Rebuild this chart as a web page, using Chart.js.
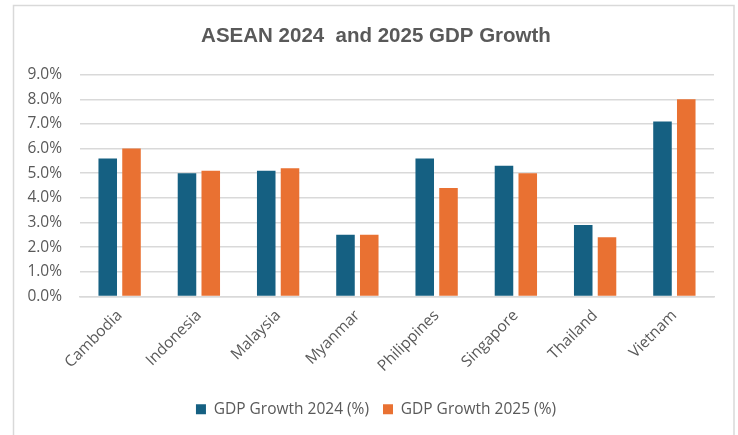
<!DOCTYPE html>
<html>
<head>
<meta charset="utf-8">
<script src="https://cdn.jsdelivr.net/npm/chart.js@4"></script>
<style>
  html, body { margin: 0; padding: 0; background: #fff; }
  #wrap { width: 738px; height: 435px; position: relative; }
</style>
</head>
<body>
<div id="wrap"><canvas id="gdpChart"></canvas></div>
<script>
const countries = ['Cambodia', 'Indonesia', 'Malaysia', 'Myanmar', 'Philippines', 'Singapore', 'Thailand', 'Vietnam']
const growth2024 = [5.6, 5.0, 5.1, 2.5, 5.6, 5.3, 2.9, 7.1]
const growth2025 = [6.0, 5.1, 5.2, 2.5, 4.4, 5.0, 2.4, 8.0]
const yTicks = [0, 1, 2, 3, 4, 5, 6, 7, 8, 9]

const textGray = '#595959'
const fontFamily = '"Open Sans", "Liberation Sans", sans-serif'

// light grey frame round the whole chart
const frame = {
  id: 'frame',
  beforeDraw(chart) {
    const c = chart.ctx
    c.save()
    c.fillStyle = '#fff'
    c.fillRect(0, 0, chart.width, chart.height)
    c.strokeStyle = '#d9d9d9'
    c.lineWidth = 1.5
    c.strokeRect(13.5, 5.5, 720.5, 440)
    c.restore()
  }
}

new Chart(document.getElementById('gdpChart'), {
  type: 'bar',
  plugins: [frame],
  data: {
    labels: countries,
    datasets: [
      { label: 'GDP Growth 2024 (%)', data: growth2024, backgroundColor: '#156082' },
      { label: 'GDP Growth 2025 (%)', data: growth2025, backgroundColor: '#E97132' }
    ]
  },
  options: {
    responsive: true,
    maintainAspectRatio: false,
    animation: false,
    devicePixelRatio: 1,
    // wide left padding keeps title and legend centred a bit right, y labels spill into it
    layout: { padding: { left: 38, right: 24, top: 0, bottom: 8 } },
    datasets: {
      bar: { categoryPercentage: 0.6, barPercentage: 0.78 }
    },
    scales: {
      x: {
        grid: { display: false },
        border: { color: '#d9d9d9', width: 1.5 },
        ticks: {
          color: textGray,
          font: { family: fontFamily, size: 15.5 },
          minRotation: 45,
          maxRotation: 45,
          padding: 2
        },
        afterFit(scale) { scale.height = 91 }
      },
      y: {
        min: 0,
        max: 9,
        afterBuildTicks(scale) { scale.ticks = yTicks.map(v => ({ value: v })) },
        grid: { color: '#d9d9d9', lineWidth: 1.5, drawTicks: false },
        border: { display: false },
        ticks: {
          color: textGray,
          font: { family: fontFamily, size: 15.5 },
          padding: 18,
          callback: (v) => v.toFixed(1) + '%'
        },
        afterFit(scale) {
          scale.width = 42
          // no clipping, so the tick labels can run into the padding
          scale._computeLabelArea = () => undefined
        }
      }
    },
    plugins: {
      title: {
        display: true,
        text: 'ASEAN 2024  and 2025 GDP Growth',
        color: textGray,
        font: { family: '"Liberation Sans", Arial, sans-serif', size: 20.5, weight: 'bold' },
        padding: { top: 24, bottom: 26 }
      },
      legend: {
        position: 'bottom',
        labels: {
          color: textGray,
          font: { family: fontFamily, size: 15.5 },
          boxWidth: 10,
          boxHeight: 10,
          padding: 14
        }
      },
      tooltip: { enabled: false }
    }
  }
})
</script>
</body>
</html>
